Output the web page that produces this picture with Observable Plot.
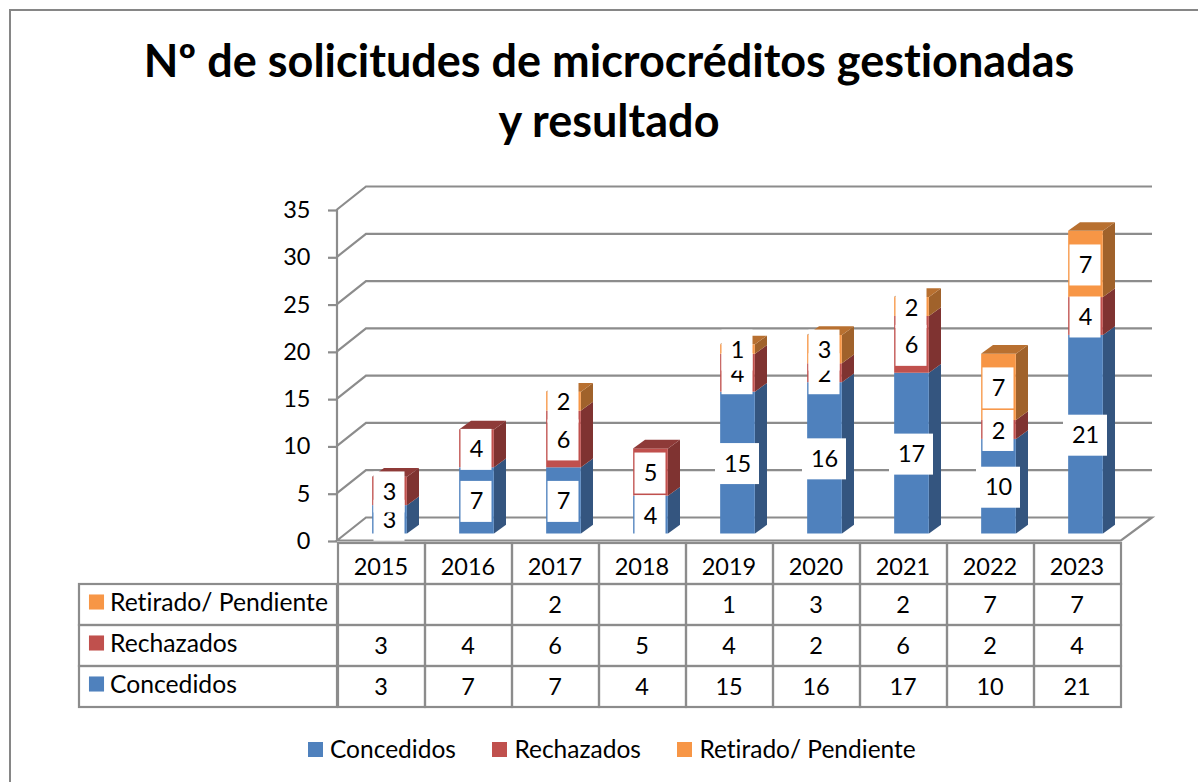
<!DOCTYPE html>
<html><head><meta charset="utf-8">
<script src="https://cdn.jsdelivr.net/npm/d3@7"></script>
<script src="https://cdn.jsdelivr.net/npm/@observablehq/plot@0.6"></script>
<style>
html,body{margin:0;padding:0;background:#fff;width:1198px;height:782px;overflow:hidden;font-family:Lato,sans-serif;color:#000;font-variant-ligatures:none}
#frame{position:absolute;left:8.5px;top:8.5px;width:1195px;height:790px;border-left:2px solid #868686;border-top:2px solid #868686;box-sizing:border-box;pointer-events:none}
#title{height:170px;box-sizing:border-box;padding-top:30px;text-align:center;font-weight:700;font-size:45px;line-height:60px;margin-left:20px}
#chart svg,#table svg{display:block}
#chart text,#table text{font-variant-ligatures:none}
#table{margin-top:-4px}
#legend{position:absolute;left:308px;top:736px;display:flex;font-size:24.5px;line-height:26px}
#legend span.i{display:flex;align-items:center;margin-right:36.5px}
#legend span.s{width:15px;height:15px;display:inline-block;margin-right:7px}
</style></head><body>
<div id="frame"></div>
<div id="title">Nº de solicitudes de microcréditos gestionadas<br>y resultado</div>
<div id="chart"></div>
<div id="table"></div>
<div id="legend"></div>
<script>
const years = ["2015","2016","2017","2018","2019","2020","2021","2022","2023"];
const seriesNames = ["Concedidos","Rechazados","Retirado/ Pendiente"];
const concedidos = [3,7,7,4,15,16,17,10,21];
const rechazados = [3,4,6,5,4,2,6,2,4];
const retirado   = [null,null,2,null,1,3,2,7,7];
const seriesValues = [concedidos,rechazados,retirado];
const frontColors = ["#4F81BD","#C0504D","#F79646"];
const sideColors  = ["#34557F","#7F3331","#A0622B"];
const topColors   = ["#3F6797","#8E3A38","#B87030"];
const yTicks = [0,5,10,15,20,25,30,35];
const gridColor = "#8C8C8C";

// long table with stack bounds
const rows = [];
years.forEach((year,i)=>{
  let base = 0;
  seriesValues.forEach((vals,s)=>{
    const v = vals[i];
    if (v == null) return;
    rows.push({year, series:seriesNames[s], s, value:v, y1:base, y2:base+v, mid:base+v/2, top:false});
    base += v;
  });
  rows[rows.length-1].top = true;
});

const xRange = [337,1121];            // front edge of the floor and table columns
const barRange = [344.8,1130.6];      // bar slots, set back on the floor
const yRange = [370,39];
const depthX = 29, depthY = -23;      // floor depth
const rightEnd = 1152;                // back right corner of the wall
const barDY = -6.5;                   // bar set back from the front edge
const barW = 35, sideX = 12, sideY = -8.7;
const inset = ((barRange[1]-barRange[0])/9-barW)/2;
const svgNS = "http://www.w3.org/2000/svg";
function el(tag, attrs){ const e=document.createElementNS(svgNS,tag); for(const k in attrs) e.setAttribute(k,attrs[k]); return e; }

// walls and gridlines, placed with the y scale
function walls(index, {x,y}){
  const g = el("g",{fill:"none",stroke:gridColor,"stroke-width":2.2});
  const [x0,x1] = xRange;
  for (const t of yTicks){
    const py = y(t)+0.5;
    if (t>0) g.append(el("path",{d:`M${x0},${py}L${x0+depthX},${py+depthY}L${rightEnd},${py+depthY}`}));
    else g.append(el("path",{d:`M${x0},${py}L${x0+depthX},${py+depthY}L${rightEnd},${py+depthY}L${x1},${py}Z`}));
  }
  g.append(el("path",{d:`M${x0},${y(0)}V${y(35)}`}));
  return g;
}
// side and top faces of each stacked segment
function faces(index, {x,y}){
  const g = el("g",{});
  for (const r of rows){
    const cx = x(r.year)+x.bandwidth()/2, right = cx+barW/2, left = cx-barW/2;
    const a = y(r.y1)+barDY, b = y(r.y2)+barDY;
    g.append(el("path",{fill:sideColors[r.s],d:`M${right},${a}L${right},${b}L${right+sideX},${b+sideY}L${right+sideX},${a+sideY}Z`}));
    if (r.top) g.append(el("path",{fill:topColors[r.s],d:`M${left},${b}L${right},${b}L${right+sideX},${b+sideY}L${left+sideX},${b+sideY}Z`}));
  }
  return g;
}
// white boxes behind the data labels of one series
function labelBoxes(s){
  return (index,{x,y})=>{
    const g = el("g",{fill:"#fff"});
    for (const r of rows.filter(d=>d.s===s)){
      const w = r.value>=10 ? 44 : 31, h = 41;
      const cx = x(r.year)+x.bandwidth()/2-0.5, cy = y(r.mid)+barDY+1;
      g.append(el("rect",{x:cx-w/2,y:cy-h/2,width:w,height:h}));
    }
    return g;
  };
}

const labelMarks = seriesNames.flatMap((name,s)=>[
  labelBoxes(s),
  Plot.text(rows.filter(d=>d.s===s),{x:"year",y:"mid",text:d=>String(d.value),dx:-0.5,dy:barDY+1,fontSize:23.5,fill:"#000"})
]);

const chart = Plot.plot({
  width:1198, height:372, marginLeft:337, marginRight:77, marginTop:0, marginBottom:0,
  style:{background:"transparent",fontFamily:"Lato,sans-serif",fontSize:"23px",color:"#000",overflow:"visible"},
  x:{type:"band",domain:years,range:barRange,padding:0,axis:null},
  y:{domain:[0,35],range:yRange,label:null},
  color:{domain:seriesNames,range:frontColors},
  marks:[
    walls,
    Plot.axisY({ticks:yTicks,anchor:"left",tickSize:9,tickPadding:18,label:null,stroke:gridColor,strokeWidth:2.2,tickFormat:d=>String(d),fontSize:23.5,fill:"#000",dy:1}),
    Plot.rect(rows,{x:"year",y1:"y1",y2:"y2",fill:"series",dy:barDY,insetLeft:inset,insetRight:inset}),
    faces,
    ...labelMarks
  ]
});
document.getElementById("chart").append(chart);

// data table
const tableRows = ["Retirado/ Pendiente","Rechazados","Concedidos"];
const rowKeys = ["header",...tableRows];
const cells = [];
years.forEach((year,i)=>{
  cells.push({year,row:"header",text:year});
  seriesNames.forEach((name,s)=>{
    const v = seriesValues[s][i];
    cells.push({year,row:name,text:v==null?"":String(v)});
  });
});
const labelLeft = 79;
function labelColumn(index,{y}){
  const g = el("g",{fill:"none",stroke:gridColor,"stroke-width":2.2});
  for (const name of tableRows) g.append(el("rect",{x:labelLeft,y:y(name),width:xRange[0]-labelLeft,height:y.bandwidth()}));
  return g;
}
const table = Plot.plot({
  width:1198, height:172, margin:0,
  style:{background:"transparent",fontFamily:"Lato,sans-serif",fontSize:"23px",color:"#000"},
  x:{type:"band",domain:years,range:xRange,padding:0,axis:null},
  y:{type:"band",domain:rowKeys,range:[4,170.7],padding:0,axis:null},
  marks:[
    Plot.cell(cells,{x:"year",y:"row",fill:"none",stroke:gridColor,strokeWidth:2.2}),
    labelColumn,
    Plot.text(cells.filter(d=>d.row==="header"),{x:"year",y:"row",text:"text",fontSize:23.5,fill:"#000",dx:-1,dy:3}),
    Plot.text(cells.filter(d=>d.row!=="header"),{x:"year",y:"row",text:"text",fontSize:23.5,fill:"#000",dx:-1}),
    Plot.text(tableRows,{y:d=>d,text:d=>d,frameAnchor:"left",dx:109.5,dy:-2,textAnchor:"start",fontSize:24.7,fill:"#000"}),
    Plot.dot(tableRows,{y:d=>d,frameAnchor:"left",dx:96,dy:-3,symbol:"square",r:8.5,fill:d=>frontColors[seriesNames.indexOf(d)]})
  ]
});
document.getElementById("table").append(table);

// legend
const legend = document.getElementById("legend");
seriesNames.forEach((name,s)=>{
  const i=document.createElement("span"); i.className="i";
  const sw=document.createElement("span"); sw.className="s"; sw.style.background=frontColors[s];
  i.append(sw,document.createTextNode(name)); legend.append(i);
});
</script>
</body></html>
